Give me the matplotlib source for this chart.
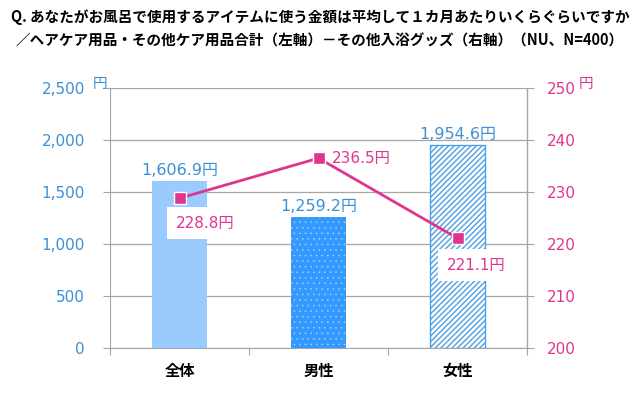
import matplotlib
matplotlib.use('Agg')
import numpy as np
import matplotlib.pyplot as plt

# data
categories = ['全体', '男性', '女性']
hair_care = [1606.9, 1259.2, 1954.6]     # left axis (bars)
bath_goods = [228.8, 236.5, 221.1]       # right axis (line)
left_ticks = [0, 500, 1000, 1500, 2000, 2500]
right_ticks = [200, 210, 220, 230, 240, 250]

title = ('Q. あなたがお風呂で使用するアイテムに使う金額は平均して１カ月あたりいくらぐらいですか\n'
         '／ヘアケア用品・その他ケア用品合計（左軸）－その他入浴グッズ（右軸）（NU、N=400）')

kBlue = '#3d8fd6'
kPink = '#e0358f'
kGrid = '#a6a6a6'

plt.rcParams['font.family'] = ['DejaVu Sans', 'Noto Sans CJK JP']

fig = plt.figure(figsize=(6.4, 3.96), dpi=100)
ax = fig.add_axes([0.1719, 0.1212, 0.6516, 0.6566])
ax2 = ax.twinx()

x = np.arange(len(categories))
w = 0.4

# bars: plain, dotted, hatched
ax.bar(x[0], hair_care[0], w, color='#99cbff', linewidth=0, zorder=2)
ax.bar(x[1], hair_care[1], w, color='#3399ff', linewidth=0, zorder=2)
plt.rcParams['hatch.linewidth'] = 0.4
ax.bar(x[1], hair_care[1], w, color='none', edgecolor='#9fd0ff', hatch='...', linewidth=0, zorder=2)
plt.rcParams['hatch.linewidth'] = 1.0
ax.bar(x[2], hair_care[2], w, color='white', edgecolor='#4f9fe3', hatch='//////', linewidth=1.0, zorder=2)

for xi, v in zip(x, hair_care):
    ax.annotate(f'{v:,.1f}円', (xi, v), xytext=(0, 3), textcoords='offset pixels',
                ha='center', va='bottom', color=kBlue, fontsize=11.5, zorder=3)

ax.set_xlim(-0.5, 2.5)
ax.set_ylim(0, 2500)
ax.set_yticks(left_ticks)
ax.set_yticklabels([f'{t:,}' for t in left_ticks])
ax.tick_params(axis='y', colors=kGrid, labelcolor=kBlue, labelsize=11, length=5, pad=13)
ax.grid(axis='y', color=kGrid, linewidth=0.9, zorder=0)
ax.set_axisbelow(True)

# x axis: ticks at category boundaries
ax.set_xticks([-0.5, 0.5, 1.5, 2.5])
ax.set_xticklabels([])
ax.set_xticks(x, minor=True)
ax.set_xticklabels(categories, minor=True, fontweight='bold', fontsize=11,
                   family=['Noto Sans CJK JP'])
ax.tick_params(axis='x', which='major', colors=kGrid, length=5)
ax.tick_params(axis='x', which='minor', length=0, pad=11)

ax.spines['top'].set_visible(False)
ax2.spines['top'].set_visible(False)
for sp in [ax.spines['left'], ax.spines['bottom'], ax2.spines['right']]:
    sp.set_color(kGrid)
ax2.spines['left'].set_visible(False)
ax2.spines['bottom'].set_visible(False)

# line on right axis
ax2.plot(x, bath_goods, color=kPink, linewidth=2, marker='s', markersize=8,
         markerfacecolor=kPink, markeredgecolor='white', markeredgewidth=1, zorder=4)
ax2.set_ylim(200, 250)
ax2.set_yticks(right_ticks)
ax2.tick_params(axis='y', colors=kGrid, labelcolor=kPink, labelsize=11, length=5, pad=9)

box = dict(facecolor='white', edgecolor='none', pad=6)
ax2.annotate(f'{bath_goods[0]:.1f}円', (x[0], bath_goods[0]), xytext=(-4, -25),
             textcoords='offset pixels', ha='left', va='center', color=kPink,
             fontsize=11, bbox=box, zorder=5)
ax2.annotate(f'{bath_goods[1]:.1f}円', (x[1], bath_goods[1]), xytext=(13, 0),
             textcoords='offset pixels', ha='left', va='center', color=kPink,
             fontsize=11, zorder=5)
ax2.annotate(f'{bath_goods[2]:.1f}円', (x[2], bath_goods[2]), xytext=(-11, -27),
             textcoords='offset pixels', ha='left', va='center', color=kPink,
             fontsize=11, bbox=box, zorder=5)

# unit labels
fig.text(93 / 640, 1 - 84 / 396, '円', color=kBlue, fontsize=10.5, ha='left', va='center',
         family=['Noto Sans CJK JP'])
fig.text(579 / 640, 1 - 84 / 396, '円', color=kPink, fontsize=10.5, ha='left', va='center',
         family=['Noto Sans CJK JP'])

fig.text(0.5, 1 - 29 / 396, title, ha='center', va='center', fontsize=10.5,
         fontweight='bold', linespacing=1.6, family=['Noto Sans CJK JP', 'DejaVu Sans'])

fig.savefig('out.png', dpi=100, facecolor='white')
